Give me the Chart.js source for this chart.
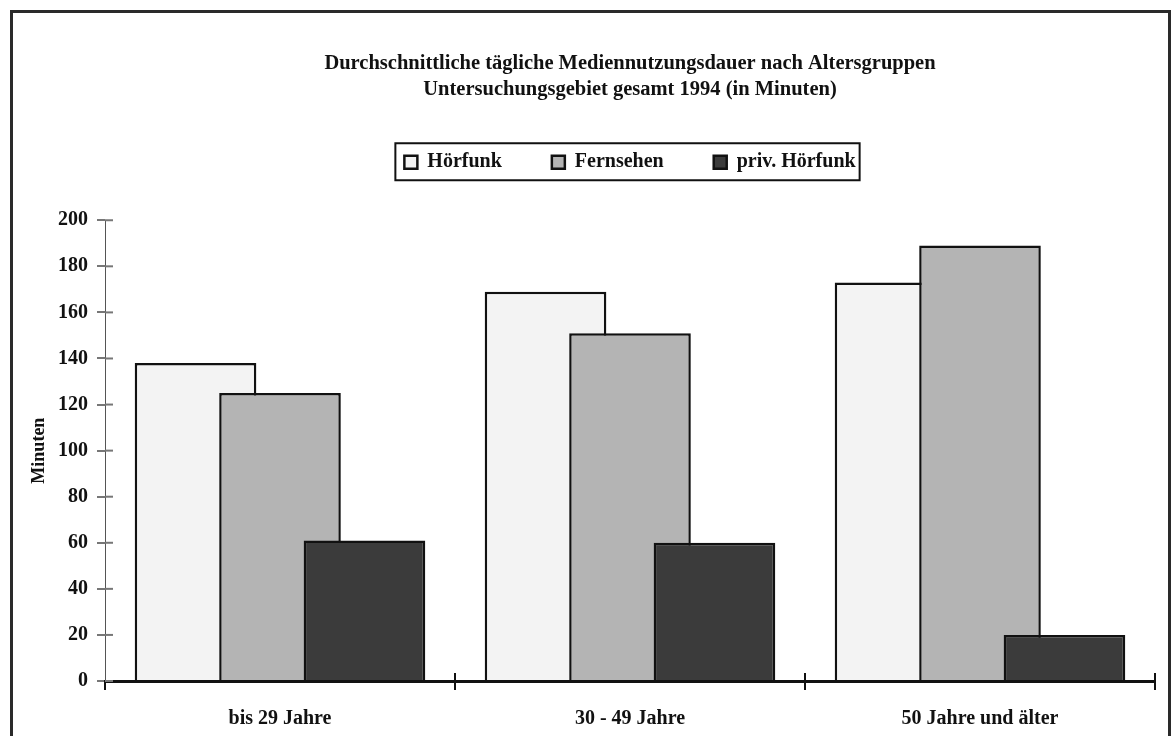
<!DOCTYPE html>
<html>
<head>
<meta charset="utf-8">
<script src="https://cdn.jsdelivr.net/npm/chart.js@4"></script>
<style>
    body { margin: 0; background: #fff; }
    #wrap { position: relative; width: 1171px; height: 736px; overflow: hidden; }
    #frame { position: absolute; left: 10px; top: 10px; width: 1155px; height: 760px; border: 3px solid #2a2a2a; pointer-events: none; }
</style>
</head>
<body>
<div id="wrap">
    <canvas id="mediaChart" width="1171" height="736"></canvas>
    <div id="frame"></div>
</div>
<script>
// Data (minutes per day)
var ageGroups = ['bis 29 Jahre', '30 - 49 Jahre', '50 Jahre und älter'];
var radioMinutes = [138, 169, 173];
var tvMinutes = [125, 151, 189];
var privRadioMinutes = [61, 60, 20];
var seriesNames = ['Hörfunk', 'Fernsehen', 'priv. Hörfunk'];
var titleLines = [
    'Durchschnittliche tägliche Mediennutzungsdauer nach Altersgruppen',
    'Untersuchungsgebiet gesamt 1994 (in Minuten)'
];

var serif = '"Liberation Serif", "Times New Roman", serif';
var legendGap = 38;

// Excel style: later series drawn over earlier ones, framed legend, ticks crossing the axes
var excelLook = {
    id: 'excelLook',
    beforeInit: function (chart) {
        var legend = chart.legend;
        var fit = legend.fit;
        legend.fit = function () {
            fit.call(this);
            this.height += legendGap;
        };
    },
    afterLayout: function (chart) {
        var ca = chart.chartArea;
        chart.titleBlock.left = ca.left;
        chart.titleBlock.right = ca.right;
        chart.legend.left = ca.left;
        chart.legend.right = ca.right;
    },
    beforeDatasetsDraw: function (chart) {
        chart.getSortedVisibleDatasetMetas().forEach(function (meta) {
            meta.controller.draw();
        });
        return false;
    },
    afterDraw: function (chart) {
        var ctx = chart.ctx;
        var ca = chart.chartArea;
        var y = chart.scales.y;
        var x = chart.scales.x;
        ctx.save();
        ctx.strokeStyle = '#777';
        ctx.lineWidth = 2;
        y.ticks.forEach(function (t, i) {
            var py = y.getPixelForTick(i);
            ctx.beginPath();
            ctx.moveTo(ca.left, py);
            ctx.lineTo(ca.left + 8, py);
            ctx.stroke();
        });
        ctx.strokeStyle = '#111';
        for (var i = 1; i <= ageGroups.length; i++) {
            var px = i < ageGroups.length ? (x.getPixelForValue(i - 1) + x.getPixelForValue(i)) / 2 : ca.right;
            ctx.beginPath();
            ctx.moveTo(px, ca.bottom - 8);
            ctx.lineTo(px, ca.bottom);
            ctx.stroke();
        }
        // box round the legend
        var boxes = chart.legend.legendHitBoxes;
        if (boxes.length) {
            var first = boxes[0];
            var last = boxes[boxes.length - 1];
            ctx.strokeStyle = '#111';
            ctx.lineWidth = 2;
            ctx.strokeRect(first.left - 9, first.top - 9, last.left + last.width + 13 - first.left, first.height + 17);
        }
        ctx.restore();
    }
};

var ctx = document.getElementById('mediaChart').getContext('2d');
var mediaChart = new Chart(ctx, {
    type: 'bar',
    data: {
        labels: ageGroups,
        datasets: [{
            label: seriesNames[0],
            data: radioMinutes,
            backgroundColor: '#f3f3f3',
            borderColor: '#111',
            borderWidth: 2.5
        }, {
            label: seriesNames[1],
            data: tvMinutes,
            backgroundColor: '#b4b4b4',
            borderColor: '#111',
            borderWidth: 2.5
        }, {
            label: seriesNames[2],
            data: privRadioMinutes,
            backgroundColor: '#3b3b3b',
            borderColor: '#111',
            borderWidth: 2.5
        }]
    },
    options: {
        responsive: false,
        animation: false,
        barPercentage: 1.44,
        categoryPercentage: 0.724,
        layout: {
            padding: { left: 12, right: 16, top: 0, bottom: 0 }
        },
        plugins: {
            title: {
                display: true,
                text: titleLines,
                color: '#111',
                font: { family: serif, size: 20.5, weight: 'bold', lineHeight: 1.25 },
                padding: { top: 51, bottom: 0 }
            },
            legend: {
                display: true,
                position: 'top',
                labels: {
                    color: '#111',
                    font: { family: serif, size: 20, weight: 'bold' },
                    boxWidth: 13,
                    boxHeight: 13,
                    padding: 50
                }
            },
            tooltip: { enabled: false }
        },
        scales: {
            x: {
                grid: {
                    display: true,
                    offset: true,
                    drawOnChartArea: false,
                    tickLength: 9,
                    color: '#111',
                    lineWidth: 2
                },
                border: { color: '#111', width: 3 },
                ticks: {
                    color: '#111',
                    padding: 17,
                    font: { family: serif, size: 20, weight: 'bold' }
                },
                afterFit: function (scale) {
                    scale.height = 55;
                }
            },
            y: {
                min: 0,
                max: 200,
                ticks: {
                    stepSize: 20,
                    color: '#111',
                    padding: 9,
                    font: { family: serif, size: 20, weight: 'bold' }
                },
                grid: {
                    display: true,
                    drawOnChartArea: false,
                    tickLength: 8,
                    color: '#777',
                    lineWidth: 2
                },
                border: { color: '#555', width: 1 },
                title: {
                    display: true,
                    text: 'Minuten',
                    color: '#111',
                    font: { family: serif, size: 18, weight: 'bold' },
                    padding: { top: 17, bottom: 0 }
                },
                afterFit: function (scale) {
                    scale.width = 93;
                }
            }
        }
    },
    plugins: [excelLook]
});
</script>
</body>
</html>
